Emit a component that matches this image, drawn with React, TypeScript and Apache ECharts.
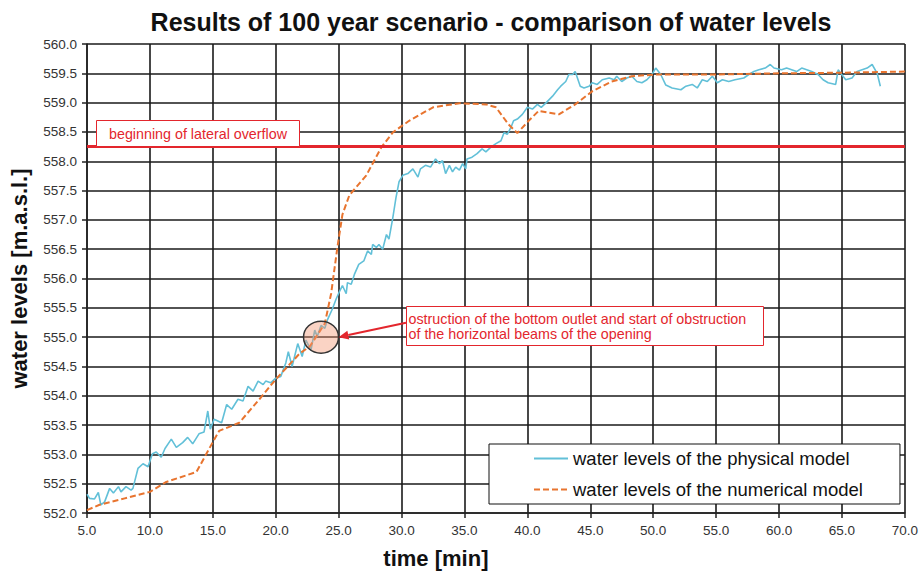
import React, { useEffect, useRef } from "react";
import * as echarts from "echarts";

const titleText = "Results of 100 year scenario - comparison of water levels";
const xAxisName = "time [min]";
const yAxisName = "water levels [m.a.s.l.]";
const physicalName = "water levels of the physical model";
const numericalName = "water levels of the numerical model";
const overflowLabel = "beginning of lateral overflow";
const obstructionLines = [
  "ostruction of the bottom outlet and start of obstruction",
  "of the horizontal beams of the opening",
];
const overflowLevel = 558.25;
const obstructionPoint: [number, number] = [23.6, 555.0];

// [time (min), water level (m a.s.l.)]
const physicalModel: [number, number][] = [
  [5.0, 552.32], [5.2, 552.25], [5.6, 552.24], [5.9, 552.35], [6.1, 552.14], [6.4, 552.19],
  [6.8, 552.42], [7.1, 552.34], [7.5, 552.45], [7.7, 552.36], [8.1, 552.45], [8.5, 552.39],
  [8.65, 552.42], [9.05, 552.76], [9.45, 552.84], [9.85, 552.79], [10.2, 553.01], [10.5, 553.04],
  [10.9, 552.95], [11.2, 553.1], [11.7, 553.26], [12.1, 553.12], [12.6, 553.2], [13.0, 553.29],
  [13.4, 553.18], [13.9, 553.35], [14.3, 553.38], [14.6, 553.74], [14.8, 553.43], [15.1, 553.6],
  [15.7, 553.54], [16.1, 553.85], [16.5, 553.77], [17.0, 553.94], [17.4, 553.91], [17.8, 554.16],
  [18.2, 554.08], [18.6, 554.25], [19.0, 554.19], [19.2, 554.25], [19.6, 554.22], [20.0, 554.3],
  [20.4, 554.33], [20.8, 554.56], [21.0, 554.75], [21.3, 554.5], [21.75, 554.89], [22.1, 554.67],
  [22.4, 554.95], [22.8, 554.78], [23.1, 555.12], [23.3, 555.01], [23.6, 555.2], [23.9, 555.15],
  [24.1, 555.29], [24.5, 555.48], [24.8, 555.65], [25.05, 555.77], [25.3, 555.88], [25.6, 555.74],
  [25.7, 555.93], [26.0, 555.9], [26.25, 556.07], [26.6, 556.24], [27.0, 556.3], [27.3, 556.47],
  [27.6, 556.41], [27.7, 556.58], [28.0, 556.53], [28.2, 556.58], [28.5, 556.5], [28.8, 556.75],
  [29.0, 556.67], [29.3, 557.03], [29.55, 557.37], [29.8, 557.65], [30.1, 557.76], [30.5, 557.79],
  [30.9, 557.87], [31.3, 557.73], [31.5, 557.87], [31.9, 557.93], [32.3, 557.9], [32.7, 558.04],
  [33.0, 557.96], [33.25, 558.01], [33.5, 557.79], [33.8, 557.93], [34.05, 557.82], [34.3, 557.9],
  [34.6, 557.85], [34.85, 557.96], [35.1, 557.87], [35.2, 558.04], [35.6, 558.07], [36.0, 558.13],
  [36.4, 558.21], [36.7, 558.16], [37.1, 558.24], [37.5, 558.3], [37.9, 558.35], [38.15, 558.49],
  [38.4, 558.46], [38.7, 558.58], [38.9, 558.69], [39.2, 558.72], [39.6, 558.8], [40.0, 558.92],
  [40.4, 558.89], [40.8, 558.97], [41.1, 558.92], [41.5, 559.0], [42.0, 559.11], [42.4, 559.22],
  [42.65, 559.28], [43.05, 559.36], [43.3, 559.48], [43.6, 559.48], [43.8, 559.53], [44.2, 559.28],
  [44.5, 559.25], [44.9, 559.28], [45.15, 559.34], [45.55, 559.31], [45.95, 559.39], [46.5, 559.42],
  [46.9, 559.39], [47.1, 559.45], [47.5, 559.36], [47.9, 559.42], [48.3, 559.45], [48.7, 559.36],
  [49.1, 559.34], [49.5, 559.39], [49.9, 559.48], [50.2, 559.59], [50.6, 559.48], [51.0, 559.3],
  [51.5, 559.25], [52.2, 559.22], [52.6, 559.28], [53.1, 559.31], [53.5, 559.25], [53.9, 559.39],
  [54.3, 559.36], [54.7, 559.45], [55.1, 559.34], [55.5, 559.39], [56.0, 559.36], [56.5, 559.39],
  [57.2, 559.42], [57.6, 559.48], [58.0, 559.53], [58.4, 559.56], [58.9, 559.59], [59.3, 559.65],
  [59.6, 559.59], [60.2, 559.56], [60.6, 559.59], [61.0, 559.56], [61.4, 559.53], [61.8, 559.59],
  [62.2, 559.56], [62.6, 559.53], [63.1, 559.48], [63.5, 559.39], [63.9, 559.34], [64.5, 559.31],
  [64.7, 559.56], [65.3, 559.39], [65.8, 559.42], [66.2, 559.53], [67.0, 559.59], [67.4, 559.65],
  [67.8, 559.5], [68.05, 559.28],
];

const numericalModel: [number, number][] = [
  [5.0, 552.05], [6.0, 552.14], [8.0, 552.25], [10.0, 552.36], [11.3, 552.53], [13.7, 552.7],
  [15.0, 553.21], [15.5, 553.4], [17.1, 553.54], [18.7, 553.94], [20.0, 554.28], [21.9, 554.72],
  [22.7, 554.84], [23.9, 555.23], [24.4, 555.74], [24.9, 556.53], [25.3, 557.09], [25.85, 557.42],
  [27.2, 557.76], [28.4, 558.24], [29.3, 558.49], [30.6, 558.69], [32.5, 558.92], [34.6, 558.99],
  [36.7, 558.97], [37.5, 558.92], [38.5, 558.63], [39.2, 558.48], [40.1, 558.69], [40.9, 558.86],
  [42.5, 558.8], [43.8, 558.97], [45.2, 559.2], [46.7, 559.36], [48.3, 559.45], [50.2, 559.48],
  [55.0, 559.48], [60.0, 559.5], [65.0, 559.51], [70.0, 559.53],
];

const FONT = 'Arial, "Liberation Sans", Helvetica, sans-serif';
const RED = "#e3262d";
const CYAN = "#62c0d8";
const ORANGE = "#e8742f";

export default function App() {
  const ref = useRef<HTMLDivElement>(null);
  useEffect(() => {
    document.body.style.margin = "0";
    if (!ref.current) return;
    const chart = echarts.init(ref.current, undefined, { renderer: "svg" });
    chart.setOption({
      animation: false,
      backgroundColor: "#ffffff",
      textStyle: { fontFamily: FONT },
      title: {
        text: titleText,
        left: 486,
        textAlign: "center",
        top: 4,
        textStyle: { fontFamily: FONT, fontSize: 25, fontWeight: "bold", color: "#111" },
      },
      grid: { left: 87, right: 14, top: 44, bottom: 56, containLabel: false },
      xAxis: {
        type: "value",
        min: 5,
        max: 70,
        interval: 5,
        name: xAxisName,
        nameLocation: "middle",
        nameGap: 34,
        nameTextStyle: { fontFamily: FONT, fontSize: 22, fontWeight: "bold", color: "#111", padding: [0, 120, 0, 0] },
        axisLine: { show: true, lineStyle: { color: "#222", width: 1.5 } },
        axisTick: { show: true, length: 5, lineStyle: { color: "#222", width: 1.5 } },
        axisLabel: { formatter: (v: number) => v.toFixed(1), fontSize: 13.5, color: "#333", margin: 10, fontFamily: FONT },
        splitLine: { show: true, lineStyle: { color: "#1a1a1a", width: 1.6 } },
      },
      yAxis: {
        type: "value",
        min: 552,
        max: 560,
        interval: 0.5,
        name: yAxisName,
        nameLocation: "middle",
        nameGap: 57,
        nameRotate: 90,
        nameTextStyle: { fontFamily: FONT, fontSize: 22, fontWeight: "bold", color: "#111" },
        axisLine: { show: true, lineStyle: { color: "#222", width: 1.5 } },
        axisTick: { show: true, length: 5, lineStyle: { color: "#222", width: 1.5 } },
        axisLabel: { formatter: (v: number) => v.toFixed(1), fontSize: 13.5, color: "#333", margin: 10, fontFamily: FONT },
        splitLine: { show: true, lineStyle: { color: "#1a1a1a", width: 1.6 } },
      },
      legend: {
        orient: "vertical",
        left: 489,
        top: 444,
        padding: [5, 37, 5, 44],
        itemGap: 12,
        itemWidth: 34,
        itemHeight: 20,
        backgroundColor: "#ffffff",
        borderColor: "#111",
        borderWidth: 1,
        borderRadius: 0,
        itemStyle: { opacity: 0 },
        textStyle: { fontFamily: FONT, fontSize: 18.5, color: "#111" },
        data: [physicalName, numericalName],
      },
      series: [
        {
          name: physicalName,
          type: "line",
          data: physicalModel,
          symbol: "none",
          showSymbol: false,
          lineStyle: { color: CYAN, width: 1.6 },
          itemStyle: { color: CYAN },
          z: 3,
        },
        {
          name: numericalName,
          type: "line",
          data: numericalModel,
          symbol: "none",
          showSymbol: false,
          lineStyle: { color: ORANGE, width: 2, type: [6, 3] },
          itemStyle: { color: ORANGE },
          z: 4,
          markLine: {
            silent: true,
            symbol: "none",
            label: { show: false },
            lineStyle: { color: RED, width: 3, type: "solid" },
            data: [{ yAxis: overflowLevel }],
          },
        },
      ],
    });

    const c = chart.convertToPixel({ gridIndex: 0 }, obstructionPoint) as number[];
    const rx = 17.5;
    const ry = 16;
    const tip = [c[0] + rx, c[1]];
    const tail = [406, 322.7];
    const dx = tip[0] - tail[0];
    const dy = tip[1] - tail[1];
    const len = Math.hypot(dx, dy);
    const ux = dx / len;
    const uy = dy / len;
    const hl = 10;
    const hw = 4.5;
    const bx = tip[0] - ux * hl;
    const by = tip[1] - uy * hl;
    const annFont = `14.3px ${FONT}`;

    chart.setOption({
      graphic: [
        {
          type: "rect",
          shape: { x: 96.5, y: 120.5, width: 203, height: 26 },
          style: { fill: "#ffffff", stroke: RED, lineWidth: 1 },
          z: 100,
        },
        {
          type: "text",
          x: 198,
          y: 134,
          style: { text: overflowLabel, fill: RED, font: annFont, textAlign: "center", textVerticalAlign: "middle" },
          z: 101,
        },
        {
          type: "rect",
          shape: { x: 406.5, y: 306.5, width: 357, height: 39 },
          style: { fill: "#ffffff", stroke: RED, lineWidth: 1 },
          z: 100,
        },
        {
          type: "text",
          x: 408.5,
          y: 318.5,
          style: { text: obstructionLines[0], fill: RED, font: annFont, textAlign: "left", textVerticalAlign: "middle" },
          z: 101,
        },
        {
          type: "text",
          x: 408.5,
          y: 334,
          style: { text: obstructionLines[1], fill: RED, font: annFont, textAlign: "left", textVerticalAlign: "middle" },
          z: 101,
        },
        {
          type: "ellipse",
          shape: { cx: c[0], cy: c[1], rx, ry },
          style: { fill: "rgba(242,150,115,0.42)", stroke: "#333", lineWidth: 1.5 },
          z: 100,
        },
        {
          type: "line",
          shape: { x1: tail[0], y1: tail[1], x2: bx, y2: by },
          style: { stroke: RED, lineWidth: 2 },
          z: 101,
        },
        {
          type: "polygon",
          shape: {
            points: [
              [tip[0], tip[1]],
              [bx - uy * hw, by + ux * hw],
              [bx + uy * hw, by - ux * hw],
            ],
          },
          style: { fill: RED },
          z: 101,
        },
      ],
    });

    return () => chart.dispose();
  }, []);
  return (
    <div
      ref={ref}
      style={{ width: 921, height: 574, position: "absolute", left: 0, top: 0, background: "#fff" }}
    />
  );
}
